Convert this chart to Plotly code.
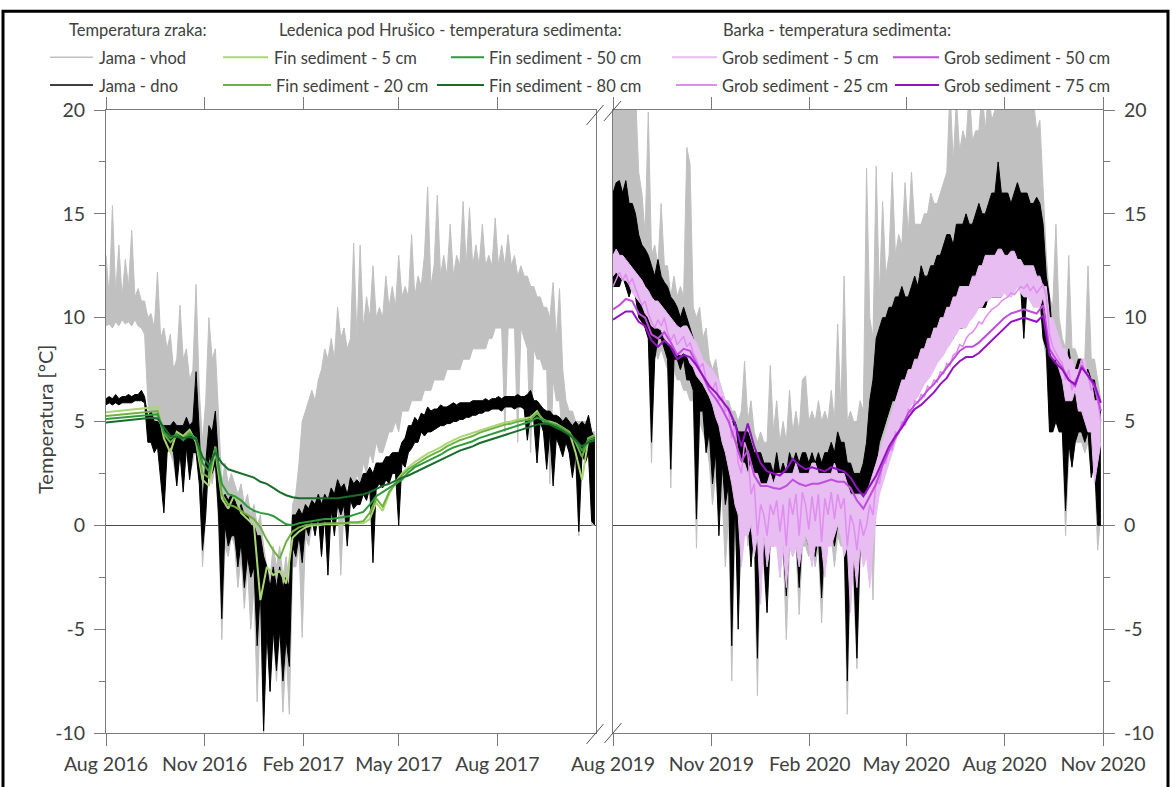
import pandas as pd
import plotly.graph_objects as go

# ---------------- DATA ----------------
# Left panel: Ledenica pod Hrušico, Aug 2016 - Nov 2017 (3-day samples of daily low / high)
LEFT_START = "2016-08-01"
LEFT_VHOD_HI = [
    13.0, 11.0, 15.4, 11.2, 13.5, 11.0, 12.8, 11.5, 14.2, 11.0,
    11.4, 10.8, 10.8, 10.0, 10.2, 9.5, 12.2, 9.0, 9.5, 8.5,
    9.2, 7.5, 8.0, 10.6, 8.0, 8.5, 7.0, 7.5, 11.6, 6.5,
    4.0, 6.0, 10.0, 8.0, 8.5, 5.0, 2.0, 3.0, 2.0, 2.5,
    2.0, 1.5, 2.0, 1.0, 1.5, 0.5, 1.0, 0.0, 0.5, -1.0,
    -2.0, -2.5, -1.0, -2.0, -1.0, -2.5, -1.5, -3.0, 1.0, 1.5,
    3.0, 5.0, 5.5, 6.0, 6.5, 6.0, 7.0, 7.5, 8.5, 8.0,
    9.0, 8.0, 10.5, 9.0, 9.5, 8.5, 9.0, 13.6, 9.0, 13.5,
    9.5, 11.0, 10.0, 12.5, 10.0, 10.5, 10.0, 12.0, 10.5, 11.5,
    10.5, 13.0, 11.0, 11.5, 11.0, 14.0, 11.0, 12.0, 11.5, 13.0,
    16.3, 11.5, 12.5, 15.9, 12.0, 13.0, 12.0, 14.5, 12.0, 13.0,
    12.5, 15.6, 12.5, 15.3, 12.5, 13.5, 12.5, 14.5, 12.5, 13.0,
    12.5, 14.8, 12.5, 13.5, 12.5, 14.0, 12.5, 13.0, 12.0, 12.5,
    12.0, 12.0, 11.5, 11.5, 11.0, 11.0, 10.5, 10.5, 10.0, 11.7,
    9.0, 11.4, 7.5, 6.0, 5.5, 5.5, 5.0, 5.0, 5.0, 5.0,
    5.0, 4.5, 4.5,
]
LEFT_VHOD_LO = [
    9.6, 9.7, 9.5, 9.8, 9.6, 9.9, 9.7, 9.8, 9.6, 9.9,
    9.6, 9.5, 9.2, 6.0, 4.5, 4.0, 4.5, 3.5, 2.5, 4.0,
    3.5, 3.0, 2.0, 3.5, 2.0, 3.5, 2.5, 3.0, 4.0, 2.5,
    -2.0, 0.5, 3.0, 2.0, 3.0, 0.0, -5.5, -1.0, -1.5, -0.5,
    -1.0, -3.0, -1.5, -4.0, -2.0, -5.0, -3.0, -8.5, -4.0, -10.0,
    -5.0, -8.0, -5.0, -7.5, -5.0, -9.0, -6.0, -9.1, -2.0, -2.0,
    -1.0, -5.4, -0.5, -1.0, 0.0, 0.0, 0.5, -1.5, 0.5, 0.0,
    0.5, 1.0, 1.5, -2.4, 1.0, 2.0, 2.0, 1.5, 2.5, 2.0,
    3.0, 2.5, 3.5, 3.0, 4.0, 3.5, 3.5, 4.0, 4.5, 4.5,
    5.0, 4.5, 5.5, 5.5, 5.5, 6.0, 6.0, 6.0, 6.0, 6.5,
    6.5, 6.5, 7.0, 7.0, 7.0, 7.0, 7.5, 7.5, 7.5, 7.5,
    7.5, 8.0, 8.0, 8.0, 8.5, 8.5, 8.5, 8.5, 8.5, 9.0,
    9.0, 9.5, 9.5, 9.5, 4.5, 9.5, 9.5, 9.5, 4.0, 9.5,
    9.0, 8.5, 3.5, 8.5, 8.0, 8.0, 7.5, 7.5, 2.0, 7.0,
    6.0, 6.0, 4.0, 4.5, 3.5, 2.5, 3.0, -0.5, 3.5, 3.0,
    3.5, 0.0, 0.0,
]
LEFT_DNO_HI = [
    6.1, 6.2, 6.1, 6.3, 6.1, 6.2, 6.2, 6.3, 6.2, 6.3,
    6.3, 6.5, 6.2, 5.2, 5.5, 5.0, 5.0, 4.8, 4.8, 4.8,
    4.8, 5.0, 4.8, 4.8, 4.8, 5.2, 4.8, 5.0, 7.4, 4.5,
    1.0, 3.0, 4.8, 4.5, 5.5, 3.0, 1.0, 1.5, 1.2, 1.5,
    1.2, 0.8, 1.0, 0.5, 0.5, 0.0, 0.0, -0.5, -0.5, -1.5,
    -2.0, -3.0, -2.0, -3.0, -2.0, -3.0, -2.5, -3.0, 0.5, 0.5,
    0.8, 0.5, 1.0, 0.8, 1.2, 1.0, 1.5, 1.0, 1.5, 1.2,
    1.8, 1.5, 2.2, 1.8, 2.0, 1.5, 2.3, 2.0, 2.2, 2.0,
    2.5, 2.5, 2.8, 2.5, 3.0, 3.0, 3.0, 3.3, 3.3, 3.5,
    3.5, 3.5, 4.0, 4.2, 4.8, 4.8, 5.2, 5.0, 5.4, 5.3,
    5.7, 5.5, 5.6, 5.6, 5.8, 5.7, 5.7, 5.8, 5.9, 5.8,
    5.9, 5.9, 5.9, 5.9, 6.0, 6.0, 6.0, 6.0, 6.1, 6.0,
    6.1, 6.1, 6.2, 6.1, 6.2, 6.2, 6.2, 6.2, 6.3, 6.2,
    6.2, 6.3, 6.5, 6.0, 6.0, 5.8, 5.6, 5.5, 5.5, 5.3,
    5.3, 5.2, 5.0, 5.2, 5.0, 4.8, 5.0, 4.8, 5.0, 4.8,
    5.3, 4.5, 4.2,
]
LEFT_DNO_LO = [
    5.8, 5.9, 5.8, 5.9, 5.8, 5.9, 5.9, 5.9, 5.9, 6.0,
    6.0, 6.0, 5.9, 4.0, 4.0, 3.5, 3.8, 2.0, 0.6, 3.5,
    3.8, 3.5, 1.9, 3.5, 1.6, 3.8, 2.2, 3.5, 3.5, 2.0,
    -1.2, 0.5, 3.5, 2.5, 3.0, 0.5, -4.5, 0.0, -1.0, -0.5,
    -0.5, -2.0, -0.8, -3.0, -1.5, -2.5, -2.0, -5.8, -3.0, -9.9,
    -5.0, -8.0, -5.0, -7.0, -5.0, -7.5, -5.5, -6.8, -1.0, -1.5,
    -0.5, -1.8, 0.0, -0.5, 0.3, -0.5, 0.5, -1.5, 0.5, -2.4,
    0.8, -0.5, 1.0, 0.5, 1.0, -1.0, 1.2, 0.8, 1.0, 1.0,
    1.5, 1.2, 1.8, -1.8, 1.8, 2.0, 1.8, 2.2, 2.0, 2.5,
    2.5, 0.0, 3.0, 2.8, 3.5, 3.7, 4.0, 4.0, 4.5, 4.3,
    4.5, 4.5, 4.6, 4.7, 4.8, 4.8, 4.9, 4.9, 5.0, 5.0,
    5.1, 5.1, 5.2, 5.2, 5.3, 5.3, 5.4, 5.4, 5.5, 5.5,
    5.6, 5.6, 5.6, 5.5, 5.7, 5.7, 5.7, 5.6, 5.7, 5.7,
    5.6, 4.1, 5.5, 5.0, 3.0, 5.0, 4.5, 2.7, 4.5, 1.9,
    4.2, 3.8, 3.3, 4.0, 3.5, 2.3, 3.5, -0.3, 3.5, 3.0,
    3.5, 0.2, 0.0,
]
# sediment temperatures, 6-day samples
FIN_5 = [
    5.45, 5.48, 5.51, 5.54, 5.57, 5.6, 5.63, 5.66, 5.7, 4.2,
    3.5, 4.5, 4.3, 4.6, 4.0, 2.2, 1.9, 3.6, 1.3, 0.8,
    1.5, 0.6, 0.3, 0.0, -3.6, -2.0, -2.4, -2.2, -2.8, -0.6,
    -0.3, -0.1, 0.0, 0.0, 0.05, 0.05, 0.05, 0.1, 0.1, 0.1,
    0.1, 0.3, 1.1, 0.7, 1.5, 2.1, 2.5, 2.8, 3.05, 3.25,
    3.45, 3.6, 3.75, 3.95, 4.1, 4.25, 4.35, 4.45, 4.55, 4.65,
    4.75, 4.85, 4.95, 5.0, 5.1, 5.15, 5.2, 5.5, 5.0, 5.0,
    4.9, 4.7, 4.5, 3.5, 2.2, 4.2, 4.35,
]
FIN_20 = [
    5.26, 5.29, 5.32, 5.35, 5.38, 5.41, 5.44, 5.47, 5.5, 4.4,
    4.0, 4.3, 4.2, 4.5, 4.1, 2.5, 2.3, 3.8, 1.5, 1.0,
    0.9, 0.7, 0.5, 0.3, -0.1, -0.7, -1.2, -1.6, -0.8, -0.3,
    -0.1, 0.0, 0.05, 0.05, 0.1, 0.1, 0.1, 0.1, 0.15, 0.15,
    0.2, 0.6, 1.3, 0.9, 1.6, 2.0, 2.4, 2.7, 2.9, 3.1,
    3.3, 3.45, 3.6, 3.8, 3.95, 4.1, 4.2, 4.3, 4.45, 4.55,
    4.65, 4.75, 4.85, 4.9, 5.0, 5.05, 5.1, 5.4, 5.1, 4.95,
    4.85, 4.7, 4.5, 4.0, 3.3, 4.2, 4.3,
]
FIN_50 = [
    5.12, 5.15, 5.19, 5.22, 5.25, 5.28, 5.31, 5.34, 5.35, 4.5,
    4.2, 4.4, 4.1, 4.4, 4.2, 3.0, 2.6, 3.7, 2.0, 1.5,
    1.4, 1.2, 0.9, 0.7, 0.6, 0.55, 0.45, 0.25, 0.05, 0.0,
    0.1, 0.15, 0.2, 0.25, 0.3, 0.3, 0.35, 0.4, 0.45, 0.55,
    0.65, 1.0, 1.4, 1.6, 1.8, 2.0, 2.2, 2.55, 2.8, 2.95,
    3.1, 3.25, 3.4, 3.6, 3.75, 3.85, 3.95, 4.05, 4.2, 4.3,
    4.4, 4.5, 4.6, 4.7, 4.8, 4.9, 5.0, 5.2, 5.05, 4.9,
    4.8, 4.6, 4.4, 4.1, 3.6, 4.1, 4.2,
]
FIN_80 = [
    4.95, 4.98, 5.02, 5.05, 5.08, 5.12, 5.15, 5.18, 5.15, 4.7,
    4.3, 4.25, 4.2, 4.25, 4.15, 3.3, 2.9, 3.5, 3.0, 2.7,
    2.6, 2.5, 2.4, 2.3, 2.1, 2.0, 1.8, 1.6, 1.45, 1.35,
    1.3, 1.3, 1.3, 1.3, 1.3, 1.3, 1.3, 1.35, 1.4, 1.45,
    1.5, 1.6, 1.75, 1.9, 2.0, 2.15, 2.3, 2.4, 2.55, 2.7,
    2.85, 3.0, 3.15, 3.3, 3.45, 3.6, 3.7, 3.8, 3.95, 4.05,
    4.15, 4.25, 4.35, 4.45, 4.55, 4.65, 4.75, 4.85, 4.9, 4.85,
    4.7, 4.55, 4.35, 4.1, 3.8, 4.0, 4.1,
]

# Right panel: Barka, Aug 2019 - Nov 2020 (3-day samples of daily low / high)
RIGHT_START = "2019-08-01"
RIGHT_VHOD_HI = [
    21.0, 21.0, 21.0, 21.0, 21.0, 21.0, 21.0, 21.0, 17.0, 16.0,
    14.0, 19.9, 13.0, 13.5, 12.5, 15.5, 12.5, 12.5, 11.0, 12.0,
    11.0, 11.5, 11.0, 18.2, 17.4, 10.5, 10.0, 10.5, 9.0, 9.5,
    8.0, 7.5, 8.0, 7.0, 6.5, 6.0, 6.0, 5.5, 5.5, 5.0,
    5.5, 7.9, 5.0, 6.0, 4.5, 4.0, 4.5, 4.0, 4.0, 7.7,
    4.5, 6.0, 4.0, 5.0, 4.0, 6.5, 4.5, 5.5, 4.5, 7.0,
    7.2, 5.0, 5.5, 5.0, 6.0, 5.0, 5.5, 5.0, 6.5, 5.0,
    9.7, 5.5, 12.0, 5.0, 5.5, 5.0, 5.0, 6.0, 5.5, 17.2,
    10.0, 9.0, 17.3, 11.0, 15.6, 12.0, 13.0, 17.0, 13.0, 14.0,
    13.5, 16.5, 14.0, 17.0, 14.5, 14.5, 14.5, 15.0, 15.0, 16.0,
    15.5, 15.5, 16.0, 16.5, 17.0, 21.0, 17.5, 20.5, 18.0, 19.0,
    18.5, 21.0, 18.5, 19.0, 19.0, 21.0, 19.0, 21.0, 19.5, 20.0,
    21.0, 21.0, 20.0, 21.0, 20.0, 21.0, 20.0, 21.0, 20.0, 21.0,
    20.0, 20.5, 19.0, 19.5, 16.0, 13.0, 11.0, 10.5, 14.5, 10.0,
    9.0, 8.5, 13.0, 8.5, 8.5, 8.0, 8.0, 8.0, 12.5, 8.0,
    8.0, 7.0, 6.0,
]
RIGHT_VHOD_LO = [
    12.0, 12.0, 12.5, 12.0, 11.5, 11.5, 12.0, 11.5, 11.0, 10.0,
    9.5, 9.0, 3.0, 8.5, 8.0, 8.5, 8.0, 7.5, 1.8, 7.5,
    7.0, 7.0, 6.5, 6.5, 6.0, 6.0, -1.1, 5.0, 4.5, 4.0,
    3.0, 1.0, 2.5, 0.5, 1.5, -2.0, 0.5, -7.5, 0.0, -3.0,
    0.0, 1.0, -1.0, 0.0, -1.0, -8.2, -0.5, -2.0, -4.2, -1.0,
    -1.0, -0.5, -2.5, -1.0, -5.5, -1.0, -1.5, -1.0, -4.3, -1.0,
    -1.0, -1.5, -1.0, -2.0, -1.0, -4.7, -1.0, -1.0, -0.5, -2.0,
    -0.5, -1.0, -1.0, -9.1, -1.0, -3.0, -6.9, -1.5, -1.0, -1.0,
    1.0, -3.6, 2.0, 3.0, 4.0, 4.5, 5.0, 5.5, 5.5, 6.0,
    6.5, 6.5, 6.0, 6.5, 7.0, 7.0, 7.5, 7.5, 7.5, 8.0,
    8.0, 8.0, 8.5, 8.5, 9.0, 9.0, 9.0, 9.5, 9.5, 9.5,
    10.0, 10.0, 10.0, 10.5, 10.5, 10.5, 10.5, 11.0, 11.0, 11.0,
    11.0, 11.0, 11.5, 11.5, 11.0, 11.5, 11.5, 11.5, 11.5, 11.5,
    11.5, 11.5, 11.0, 11.0, 9.0, 8.0, 5.0, 4.5, 6.0, 4.5,
    4.5, -0.5, 3.5, 3.0, 4.0, 4.0, 4.0, 3.5, 4.0, 2.5,
    3.0, -1.2, 0.5,
]
RIGHT_DNO_HI = [
    16.0, 16.5, 16.6, 16.0, 16.6, 15.5, 15.5, 15.0, 14.0, 13.5,
    13.3, 13.0, 12.5, 12.0, 12.8, 12.0, 11.7, 11.5, 11.0, 10.8,
    10.5, 10.0, 10.5, 10.0, 9.5, 9.0, 8.5, 8.0, 7.5, 7.5,
    7.4, 7.0, 6.5, 6.0, 6.0, 5.5, 5.5, 5.0, 5.0, 4.5,
    4.5, 4.5, 4.5, 4.0, 3.5, 3.5, 3.5, 3.0, 3.0, 3.0,
    2.5, 3.5, 2.5, 3.0, 2.5, 3.5, 3.0, 3.5, 3.0, 3.5,
    3.5, 3.0, 3.5, 3.0, 3.5, 3.0, 3.5, 3.5, 4.0, 3.5,
    4.5, 4.0, 4.0, 3.0, 3.0, 2.5, 2.5, 2.5, 3.0, 4.0,
    6.0, 7.0, 9.0, 9.5, 10.0, 10.0, 10.5, 10.5, 11.0, 11.0,
    11.5, 11.0, 11.0, 11.5, 12.0, 11.5, 12.5, 12.0, 12.0, 12.5,
    12.5, 13.0, 13.0, 13.5, 14.0, 14.0, 13.5, 14.5, 14.5, 14.5,
    15.0, 14.5, 14.5, 15.0, 15.5, 15.0, 15.0, 15.5, 16.0, 16.0,
    17.5, 16.0, 16.0, 16.0, 15.5, 16.0, 16.5, 16.0, 16.0, 16.0,
    15.5, 15.5, 15.8, 15.5, 14.5, 12.0, 11.0, 9.0, 9.0, 8.5,
    8.0, 7.5, 8.5, 7.5, 7.5, 8.0, 8.0, 7.5, 7.5, 7.0,
    7.0, 6.0, 5.5,
]
RIGHT_DNO_LO = [
    11.5, 11.5, 11.5, 12.0, 11.5, 11.0, 11.5, 11.0, 10.0, 9.8,
    9.5, 9.0, 4.0, 8.0, 9.0, 9.0, 8.5, 8.0, 2.7, 8.0,
    8.0, 7.5, 8.0, 7.0, 7.0, 6.5, 0.3, 5.5, 5.5, 3.5,
    4.5, 2.0, 3.5, -0.5, 3.0, 1.0, 2.0, -5.8, 1.5, -5.0,
    0.5, 0.0, 0.5, -2.0, 0.0, -6.4, 0.0, -1.5, -4.2, -0.5,
    -1.0, -0.5, -1.0, -1.0, -3.4, -0.5, -0.5, -0.5, -3.0, -0.5,
    -0.5, -1.0, -0.5, -1.5, -0.5, -3.5, -0.5, -0.5, 0.0, -1.0,
    0.0, 0.0, -0.5, -7.5, -1.0, -2.0, -6.4, -1.0, -1.0, 0.5,
    1.0, 1.0, 3.0, 4.0, 4.5, 5.0, 5.5, 6.0, 6.0, 6.5,
    6.5, 6.5, 6.0, 6.5, 7.0, 7.0, 7.5, 7.5, 7.5, 8.0,
    8.0, 8.0, 8.5, 8.5, 9.0, 9.0, 9.0, 9.5, 9.5, 9.5,
    10.0, 10.0, 10.0, 10.5, 10.5, 10.5, 10.5, 11.0, 11.0, 11.0,
    11.0, 11.0, 11.5, 11.5, 11.0, 11.5, 11.5, 11.5, 9.0, 11.5,
    11.5, 11.5, 11.0, 11.0, 9.0, 8.5, 4.5, 4.5, 5.0, 4.5,
    4.5, 0.7, 4.0, 2.8, 4.0, 4.5, 4.5, 4.0, 4.5, 2.3,
    3.0, 0.0, 0.0,
]
GROB_5_HI = [
    13.0, 13.3, 13.0, 13.0, 12.8, 12.6, 12.4, 12.2, 12.0, 11.8,
    11.5, 11.3, 11.0, 10.8, 10.8, 10.6, 10.4, 10.2, 10.0, 9.8,
    9.6, 9.5, 9.6, 9.6, 9.3, 9.0, 8.8, 8.4, 8.0, 7.8,
    7.6, 7.5, 7.2, 7.0, 6.5, 6.0, 5.5, 5.0, 4.5, 3.5,
    3.0, 3.0, 2.5, 3.0, 2.5, 2.5, 2.0, 2.0, 2.0, 2.5,
    2.0, 2.5, 2.5, 2.5, 2.5, 2.5, 2.5, 3.0, 2.5, 2.5,
    2.5, 2.5, 3.0, 3.0, 2.5, 2.5, 2.5, 2.5, 2.5, 3.0,
    2.5, 2.5, 2.5, 2.0, 1.5, 1.5, 1.5, 1.5, 1.5, 1.5,
    2.0, 2.5, 3.0, 3.5, 4.0, 4.5, 5.0, 5.5, 6.0, 6.5,
    7.0, 7.0, 7.5, 7.5, 8.0, 8.0, 8.5, 8.5, 9.0, 9.0,
    9.5, 9.5, 10.0, 10.0, 10.5, 10.5, 11.0, 11.0, 11.5, 11.5,
    11.5, 11.5, 12.0, 12.0, 12.5, 12.5, 13.0, 13.0, 13.0, 13.0,
    13.3, 13.3, 13.0, 13.0, 13.2, 13.2, 12.8, 12.8, 12.5, 12.5,
    12.5, 12.5, 12.0, 12.0, 11.5, 11.5, 10.0, 10.0, 9.5, 9.0,
    8.5, 8.5, 8.0, 8.0, 7.5, 7.5, 8.0, 8.0, 7.0, 7.0,
    6.0, 6.0, 5.0,
]
GROB_5_LO = [
    12.0, 12.2, 12.0, 11.8, 11.8, 11.6, 11.2, 11.0, 10.8, 10.6,
    10.2, 10.0, 9.6, 9.5, 9.5, 9.4, 9.0, 8.8, 8.6, 8.5,
    8.3, 8.2, 8.3, 8.2, 7.8, 7.6, 7.2, 7.0, 6.8, 6.5,
    6.2, 5.8, 5.2, 4.8, 4.0, 3.5, 2.8, 2.0, 1.0, 0.5,
    -2.0, -0.5, -0.5, 0.0, -1.5, -0.5, -3.8, -0.5, -2.0, -1.0,
    -1.0, -1.0, -2.5, -1.0, -3.0, -1.0, -1.5, -1.0, -2.0, -1.0,
    -0.5, -1.0, -2.0, -1.0, -1.0, -1.0, -2.5, -1.0, -1.0, -0.5,
    0.0, -0.5, -1.5, -1.0, -4.2, -1.5, -3.0, -1.0, -2.0, -1.5,
    -3.0, -1.0, 0.5, 1.5, 2.0, 2.5, 3.0, 3.5, 4.0, 4.5,
    5.0, 5.2, 5.5, 5.8, 6.0, 6.2, 6.5, 6.8, 7.0, 7.2,
    7.5, 7.8, 8.0, 8.2, 8.5, 8.7, 9.0, 9.2, 9.5, 9.5,
    9.5, 9.8, 10.0, 10.2, 10.5, 10.5, 10.8, 10.8, 11.0, 11.0,
    11.0, 11.0, 11.2, 11.0, 11.0, 11.2, 11.5, 11.2, 11.0, 11.0,
    10.8, 10.5, 10.5, 10.5, 11.0, 10.0, 8.5, 8.0, 8.0, 7.5,
    7.0, 6.0, 6.0, 6.0, 6.5, 5.5, 5.5, 5.0, 4.5, 4.5,
    2.0, 3.0, 4.0,
]
GROB_25 = [
    11.5, 11.9, 12.2, 11.8, 12.1, 11.6, 11.9, 11.4, 11.0, 10.6,
    10.8, 10.2, 9.8, 9.5, 9.9, 9.6, 10.0, 9.3, 8.9, 9.2,
    8.7, 8.9, 9.1, 8.6, 8.8, 8.3, 8.0, 7.6, 7.8, 7.0,
    6.8, 6.5, 6.9, 6.0, 6.2, 5.5, 5.6, 4.2, 4.8, 3.0,
    2.5, 4.0, 3.5, 1.5, 2.0, -0.5, 1.0, 0.5, -0.5, 1.0,
    0.5, 1.2, -0.3, 1.0, -1.0, 1.3, 0.5, 1.5, -0.5, 1.6,
    1.0, -0.2, 1.4, 0.2, 1.5, -0.8, 1.3, 0.5, 1.6, 0.3,
    1.5, 0.8, 1.3, -1.0, 0.5, 0.0, -1.2, 0.3, -0.5, 0.0,
    1.0, 0.5, 2.2, 2.0, 3.0, 3.0, 3.8, 3.6, 4.5, 4.4,
    5.0, 4.8, 5.6, 5.4, 6.0, 5.9, 6.3, 6.2, 6.7, 6.6,
    7.0, 6.9, 7.4, 7.3, 7.8, 7.7, 8.2, 8.3, 8.7, 8.6,
    9.0, 9.2, 9.3, 9.5, 9.8, 9.7, 10.0, 10.2, 10.4, 10.5,
    10.6, 10.8, 10.9, 11.0, 11.2, 11.1, 11.3, 11.5, 11.4, 11.6,
    11.3, 11.5, 11.2, 11.4, 11.6, 11.0, 9.2, 8.6, 8.3, 8.0,
    7.8, 7.0, 7.5, 6.5, 7.0, 7.2, 8.0, 7.4, 7.3, 6.5,
    6.8, 6.0, 5.0,
]
GROB_50 = [
    10.4, 10.6, 10.9, 10.8, 10.2, 10.0, 9.2, 9.0, 9.3, 8.8,
    8.2, 8.5, 8.4, 7.8, 7.2, 6.5, 6.1, 5.6, 5.0, 4.1,
    3.1, 3.6, 2.4, 1.9, 1.9, 1.8, 1.75, 1.9, 2.2, 2.0,
    1.9, 2.0, 2.0, 2.1, 2.2, 2.1, 2.1, 1.8, 1.2, 0.8,
    1.4, 2.0, 2.9, 3.6, 4.2, 4.8, 5.4, 5.8, 6.1, 6.5,
    6.8, 7.2, 7.6, 8.0, 8.4, 8.6, 8.6, 8.8, 9.1, 9.4,
    9.7, 10.0, 10.2, 10.3, 10.4, 10.3, 10.2, 10.6, 8.5, 8.0,
    7.6, 7.0, 6.7, 7.7, 7.2, 6.7, 5.5,
]
GROB_75 = [
    9.9, 10.1, 10.3, 10.3, 9.8, 9.6, 8.9, 8.6, 8.9, 8.6,
    8.0, 8.2, 8.1, 7.7, 7.2, 6.7, 6.4, 6.0, 5.6, 4.9,
    3.8, 4.9, 3.8, 3.0, 2.6, 2.5, 2.4, 2.7, 3.2, 2.9,
    2.7, 2.8, 2.7, 2.6, 2.8, 2.7, 2.6, 2.3, 1.8, 1.4,
    1.9, 2.4, 3.1, 3.8, 4.3, 4.7, 5.2, 5.6, 5.8, 6.1,
    6.4, 6.8, 7.1, 7.6, 7.9, 8.1, 8.1, 8.3, 8.6, 8.9,
    9.2, 9.5, 9.8, 9.9, 10.0, 9.9, 9.8, 10.1, 8.2, 7.8,
    7.5, 7.0, 6.8, 7.6, 7.2, 6.8, 5.9,
]

LEFT_TICKS = ["2016-08-01", "2016-11-01", "2017-02-01", "2017-05-01", "2017-08-01"]
LEFT_LABELS = ["Aug 2016", "Nov 2016", "Feb 2017", "May 2017", "Aug 2017"]
RIGHT_TICKS = ["2019-08-01", "2019-11-01", "2020-02-01", "2020-05-01", "2020-08-01", "2020-11-01"]
RIGHT_LABELS = ["Aug 2019", "Nov 2019", "Feb 2020", "May 2020", "Aug 2020", "Nov 2020"]
Y_TICKS = [-10, -5, 0, 5, 10, 15, 20]
Y_LABELS = ["-10", "-5", "0", "5", "10", "15", "20"]
Y_MINOR = [-7.5, -2.5, 2.5, 7.5, 12.5, 17.5]

# ---------------- STYLE ----------------
FONT = "Lato"
TXT = "#404040"
AX = "#7a7a7a"
C = {
    "vhod": "#c0c0c0", "dno": "#000000",
    "f5": "#aad673", "f20": "#6fb043", "f50": "#2f9a3c", "f80": "#1b6c2b",
    "g5": "#e8bdf2", "g25": "#e08cf0", "g50": "#c04edc", "g75": "#9312c4",
}


def dates(start, n, step):
    return pd.date_range(start, periods=n, freq=step)


fig = go.Figure()


def add_line(xa, ya, start, vals, step, color, width):
    fig.add_trace(go.Scatter(
        x=dates(start, len(vals), step), y=vals, mode="lines",
        line=dict(color=color, width=width), xaxis=xa, yaxis=ya,
        showlegend=False, hoverinfo="skip"))


def add_band(xa, ya, start, lo, hi, color):
    x = dates(start, len(lo), "3D")
    fig.add_trace(go.Scatter(x=x, y=lo, mode="lines", line=dict(color=color, width=1),
                             xaxis=xa, yaxis=ya, showlegend=False, hoverinfo="skip"))
    fig.add_trace(go.Scatter(x=x, y=hi, mode="lines", line=dict(color=color, width=1),
                             fill="tonexty", fillcolor=color,
                             xaxis=xa, yaxis=ya, showlegend=False, hoverinfo="skip"))


# left panel
add_band("x", "y", LEFT_START, LEFT_VHOD_LO, LEFT_VHOD_HI, C["vhod"])
add_band("x", "y", LEFT_START, LEFT_DNO_LO, LEFT_DNO_HI, C["dno"])
add_line("x", "y", LEFT_START, FIN_5, "6D", C["f5"], 2)
add_line("x", "y", LEFT_START, FIN_20, "6D", C["f20"], 2)
add_line("x", "y", LEFT_START, FIN_50, "6D", C["f50"], 2)
add_line("x", "y", LEFT_START, FIN_80, "6D", C["f80"], 2)
# right panel
add_band("x2", "y2", RIGHT_START, RIGHT_VHOD_LO, RIGHT_VHOD_HI, C["vhod"])
add_band("x2", "y2", RIGHT_START, RIGHT_DNO_LO, RIGHT_DNO_HI, C["dno"])
add_band("x2", "y2", RIGHT_START, GROB_5_LO, GROB_5_HI, C["g5"])
add_line("x2", "y2", RIGHT_START, GROB_25, "3D", C["g25"], 1.5)
add_line("x2", "y2", RIGHT_START, GROB_50, "6D", C["g50"], 2)
add_line("x2", "y2", RIGHT_START, GROB_75, "6D", C["g75"], 2)

# ---------------- LAYOUT ----------------
W, H = 1172, 787
L, R, T, B = 106, 69, 110, 52
PW, PH = W - L - R, H - T - B


def px(x):
    return (x - L) / PW


def py(y):
    return (H - B - y) / PH


tickfont = dict(family=FONT, size=19.5, color=TXT)
xcommon = dict(type="date", showline=True, linecolor=AX, linewidth=1, mirror="ticks",
               ticks="outside", ticklen=12, tickcolor=AX, tickwidth=1, tickfont=tickfont,
               showgrid=False, zeroline=False, ticklabelstandoff=2)
ycommon = dict(range=[-10, 20], tickvals=Y_TICKS, ticktext=Y_LABELS, showline=True,
               linecolor=AX, linewidth=1, mirror=True, ticks="outside", ticklen=11,
               tickcolor=AX, tickwidth=1, tickfont=tickfont, showgrid=False,
               zeroline=True, zerolinecolor="#4a4a4a", zerolinewidth=1,
               ticklabelstandoff=5,
               minor=dict(tickvals=Y_MINOR, ticks="outside", ticklen=6,
                          tickcolor=AX, showgrid=False))

fig.update_layout(
    width=W, height=H, margin=dict(l=L, r=R, t=T, b=B),
    paper_bgcolor="white", plot_bgcolor="white", showlegend=False,
    font=dict(family=FONT, color=TXT),
    xaxis=dict(domain=[0, 490 / PW], range=["2016-08-01", "2017-11-01"],
               tickvals=LEFT_TICKS, ticktext=LEFT_LABELS, anchor="y", **xcommon),
    xaxis2=dict(domain=[507 / PW, 1], range=["2019-08-01", "2020-11-01"],
                tickvals=RIGHT_TICKS, ticktext=RIGHT_LABELS, anchor="y2", **xcommon),
    yaxis=dict(domain=[0, 1], anchor="x", side="left", **ycommon),
    yaxis2=dict(domain=[0, 1], anchor="x2", side="right", **ycommon),
)

shapes = []
annotations = []

# outer frame
shapes.append(dict(type="rect", xref="paper", yref="paper", x0=px(3), x1=px(1168),
                   y0=py(800), y1=py(11), line=dict(color="black", width=3)))

# axis break marks
for cx, cy in [(595, 115), (612.5, 111), (595, 736), (613, 735)]:
    shapes.append(dict(type="line", xref="paper", yref="paper",
                       x0=px(cx - 8.5), y0=py(cy + 10), x1=px(cx + 8.5), y1=py(cy - 10),
                       line=dict(color="#555555", width=1)))

# y-axis title
annotations.append(dict(text="Temperatura [°C]", xref="paper", yref="paper",
                        x=px(45), y=py(421), textangle=-90, showarrow=False,
                        xanchor="center", yanchor="middle",
                        font=dict(family=FONT, size=20, color=TXT)))

# legend (manual, three groups)
lfont = dict(family=FONT, size=16.5, color=TXT)
headers = [("Temperatura zraka:", 67), ("Ledenica pod Hrušico - temperatura sedimenta:", 277),
           ("Barka - temperatura sedimenta:", 721)]
for txt, x in headers:
    annotations.append(dict(text=txt, xref="paper", yref="paper", x=px(x), y=py(30),
                            xanchor="left", yanchor="middle", showarrow=False, font=lfont))

entries = [
    # (label, color, line x0, line x1, text x, row y, width)
    ("Jama - vhod", C["vhod"], 50, 93, 97, 58, 1.5),
    ("Jama - dno", C["dno"], 50, 93, 97, 86, 1.5),
    ("Fin sediment - 5 cm", C["f5"], 223, 268, 272, 58, 2),
    ("Fin sediment - 20 cm", C["f20"], 223, 271, 274, 86, 2),
    ("Fin sediment - 50 cm", C["f50"], 451, 484, 487, 58, 2),
    ("Fin sediment - 80 cm", C["f80"], 437, 484, 487, 86, 2),
    ("Grob sediment - 5 cm", C["g5"], 672, 717, 720, 58, 2),
    ("Grob sediment - 25 cm", C["g25"], 676, 717, 720, 86, 2),
    ("Grob sediment - 50 cm", C["g50"], 893, 939, 942, 58, 2),
    ("Grob sediment - 75 cm", C["g75"], 895, 939, 942, 86, 2),
]
for label, col, lx0, lx1, tx, ry, w in entries:
    shapes.append(dict(type="line", xref="paper", yref="paper", x0=px(lx0), x1=px(lx1),
                       y0=py(ry - 1), y1=py(ry - 1), line=dict(color=col, width=w)))
    annotations.append(dict(text=label, xref="paper", yref="paper", x=px(tx), y=py(ry),
                            xanchor="left", yanchor="middle", showarrow=False, font=lfont))

fig.update_layout(shapes=shapes, annotations=annotations)

fig.write_html("out.html", config={"displayModeBar": False},
               post_script="document.body.style.margin='0px';")
